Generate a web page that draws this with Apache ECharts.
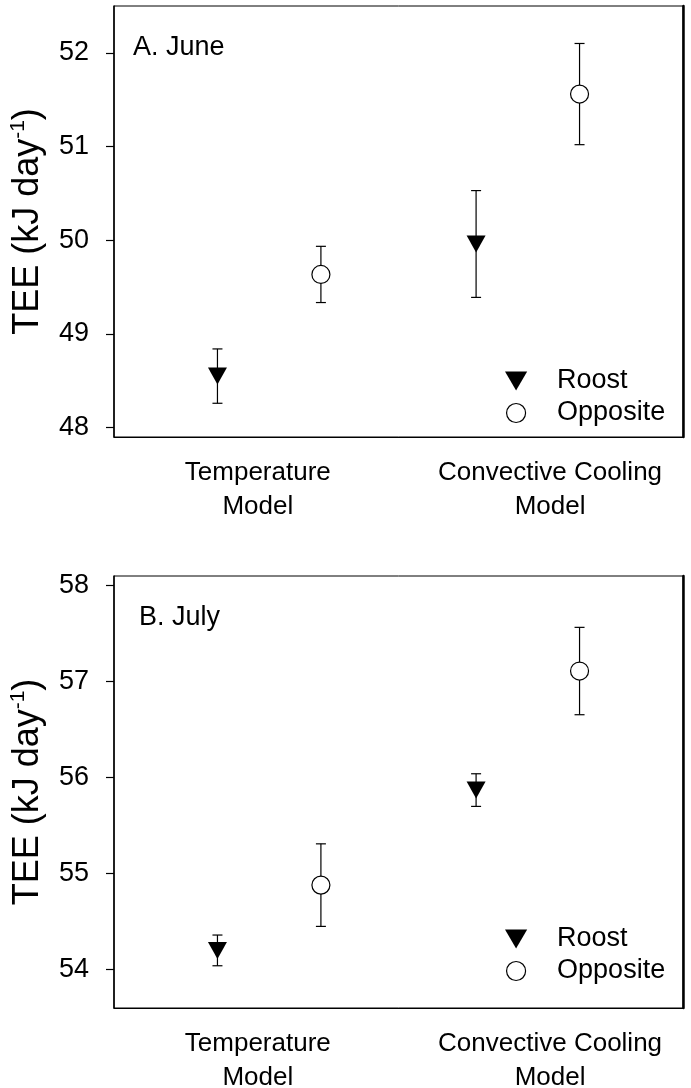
<!DOCTYPE html>
<html>
<head>
<meta charset="utf-8">
<script src="https://cdn.jsdelivr.net/npm/echarts@6/dist/echarts.min.js"></script>
<style>html,body{margin:0;padding:0;background:#fff}#c{width:691px;height:1088px}</style>
</head>
<body>
<div id="c"></div>
<script>
// ---- data ----
const categories = ['Temperature\nModel', 'Convective Cooling\nModel'];
const seriesNames = ['Roost', 'Opposite'];
const juneRoost = [48.55, 49.96];
const juneRoostSE = [0.29, 0.57];
const juneOpposite = [49.635, 51.56];
const juneOppositeSE = [0.30, 0.54];
const julyRoost = [54.20, 55.87];
const julyRoostSE = [0.16, 0.17];
const julyOpposite = [54.88, 57.11];
const julyOppositeSE = [0.43, 0.455];
const juneTicks = [48, 49, 50, 51, 52];
const julyTicks = [54, 55, 56, 57, 58];
const panelLabels = ['A. June', 'B. July'];

// ---- layout constants ----
const groupCenters = [3, 8];
const offsets = [-1, 1];
const labelPos = [2.78, 8.43];
const FONT = 'Liberation Sans, Arial, sans-serif';

const chart = echarts.init(document.getElementById('c'));

function pts(vals, k) { return vals.map((v, i) => [groupCenters[i] + offsets[k], v]); }
function errs(vals, se, k) { return vals.map((v, i) => [groupCenters[i] + offsets[k], v - se[i], v + se[i]]); }

function errRender(params, api) {
  const x = api.value(0), lo = api.value(1), hi = api.value(2);
  const a = api.coord([x, hi]), b = api.coord([x, lo]);
  const w = 5;
  const st = { stroke: '#000', lineWidth: 1.2 };
  return { type: 'group', children: [
    { type: 'line', shape: { x1: a[0], y1: a[1], x2: b[0], y2: b[1] }, style: st },
    { type: 'line', shape: { x1: a[0] - w, y1: a[1], x2: a[0] + w, y2: a[1] }, style: st },
    { type: 'line', shape: { x1: b[0] - w, y1: b[1], x2: b[0] + w, y2: b[1] }, style: st }
  ]};
}

const grids = [
  { left: 114, right: 8, top: 6, height: 431, show: true, borderColor: '#000', borderWidth: 1, containLabel: false, outerBoundsMode: 'none' },
  { left: 114, right: 8, top: 576, height: 432, show: true, borderColor: '#000', borderWidth: 1, containLabel: false, outerBoundsMode: 'none' }
];
const yRanges = [[47.9, 52.5], [53.6, 58.1]];
const yTicks = [juneTicks, julyTicks];

const xAxes = [0, 1].map(g => ({
  type: 'value', gridIndex: g, min: 0, max: 11,
  axisLine: { show: true, lineStyle: { color: '#000', width: 1.2 } },
  axisTick: { show: false },
  splitLine: { show: false },
  axisLabel: {
    customValues: labelPos,
    formatter: v => { const i = labelPos.indexOf(v); return i >= 0 ? categories[i] : ''; },
    color: '#000', fontFamily: FONT, fontSize: 26, lineHeight: 34, margin: 19
  }
}));

const yAxes = [];
[0, 1].forEach(g => {
  yAxes.push({
    type: 'value', gridIndex: g, min: yRanges[g][0], max: yRanges[g][1],
    name: 'TEE (kJ day{sup|-1})', nameLocation: 'middle', nameGap: 54,
    nameTextStyle: { color: '#000', fontFamily: FONT, fontSize: 36, lineHeight: 40,
      rich: { sup: { fontFamily: FONT, fontSize: 21, verticalAlign: 'top', lineHeight: 40, color: '#000' } } },
    axisLine: { show: true, lineStyle: { color: '#000', width: 1.5 } },
    axisTick: { show: true, length: 8, customValues: yTicks[g], lineStyle: { color: '#000', width: 1.2 } },
    axisLabel: { customValues: yTicks[g], color: '#000', fontFamily: FONT, fontSize: 27, margin: 25 },
    splitLine: { show: false }
  });
  yAxes.push({
    type: 'value', gridIndex: g, position: 'right', min: yRanges[g][0], max: yRanges[g][1],
    axisLine: { show: true, lineStyle: { color: '#000', width: 2.5 } },
    axisTick: { show: false }, axisLabel: { show: false }, splitLine: { show: false }
  });
});

const panels = [
  { roost: juneRoost, roostSE: juneRoostSE, opp: juneOpposite, oppSE: juneOppositeSE },
  { roost: julyRoost, roostSE: julyRoostSE, opp: julyOpposite, oppSE: julyOppositeSE }
];

const series = [];
panels.forEach((p, g) => {
  const yi = g * 2;
  series.push({ type: 'custom', name: 'err-r' + g, xAxisIndex: g, yAxisIndex: yi, renderItem: errRender,
    data: errs(p.roost, p.roostSE, 0), z: 2, silent: true });
  series.push({ type: 'custom', name: 'err-o' + g, xAxisIndex: g, yAxisIndex: yi, renderItem: errRender,
    data: errs(p.opp, p.oppSE, 1), z: 2, silent: true });
  series.push({ type: 'scatter', name: seriesNames[0], xAxisIndex: g, yAxisIndex: yi,
    symbol: 'triangle', symbolRotate: 180, symbolSize: [19, 17],
    itemStyle: { color: '#000', opacity: 1 }, data: pts(p.roost, 0), z: 5 });
  series.push({ type: 'scatter', name: seriesNames[1], xAxisIndex: g, yAxisIndex: yi,
    symbol: 'circle', symbolSize: 18,
    itemStyle: { color: '#fff', borderColor: '#000', borderWidth: 1.2, opacity: 1 }, data: pts(p.opp, 1), z: 5 });
});

const legendTops = [360, 918];
const legends = legendTops.map(t => ({
  orient: 'vertical', left: 500, top: t, itemWidth: 72, itemHeight: 19, itemGap: 0,
  selectedMode: false,
  textStyle: { color: '#000', fontFamily: FONT, fontSize: 27, lineHeight: 32 },
  data: [
    { name: seriesNames[0], icon: 'path://M0,0L21,0L10.5,18Z', itemStyle: { color: '#000', opacity: 1 } },
    { name: seriesNames[1], icon: 'circle', itemStyle: { color: '#fff', borderColor: '#000', borderWidth: 1.2, opacity: 1 } }
  ]
}));

chart.setOption({
  animation: false,
  backgroundColor: '#fff',
  grid: grids,
  xAxis: xAxes,
  yAxis: yAxes,
  legend: legends,
  graphic: [
    { type: 'text', left: 133, top: 34, style: { text: panelLabels[0], fill: '#000', font: '27px ' + FONT } },
    { type: 'text', left: 139, top: 604, style: { text: panelLabels[1], fill: '#000', font: '27px ' + FONT } }
  ],
  series: series
});
</script>
</body>
</html>
